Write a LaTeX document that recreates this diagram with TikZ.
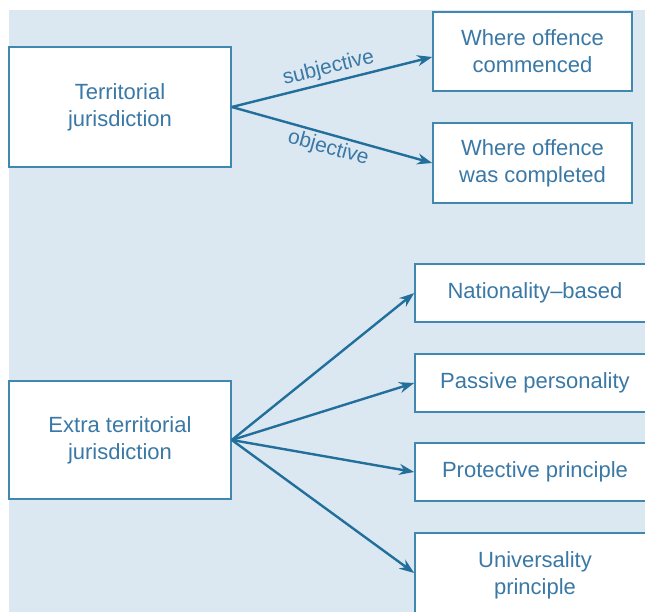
\documentclass[tikz,border=0pt]{standalone}
\usepackage{fontspec}
\setmainfont{Liberation Sans}
\usetikzlibrary{arrows.meta}
\definecolor{bgblue}{HTML}{DCE8F1}
\definecolor{boxline}{HTML}{4088B0}
\definecolor{arrowc}{HTML}{226F9C}
\definecolor{txt}{HTML}{3A78A6}
\begin{document}
\begin{tikzpicture}[x=1pt,y=-1pt,
  box/.style={draw=boxline, line width=1.6pt, fill=white, text=txt, align=center,
    font=\fontsize{22}{27}\selectfont, inner sep=0pt},
  conn/.style={draw=arrowc, line width=2.4pt, -{Stealth[length=15pt,width=11pt]}},
  lbl/.style={text=txt, font=\fontsize{21}{24}\selectfont, sloped, inner sep=3pt}]
\useasboundingbox (0,0) rectangle (645,612);
\fill[white] (0,0) rectangle (645,612);
\fill[bgblue] (9,10) rectangle (645,612);
% top group
\node[box, minimum width=222pt, minimum height=120pt] (terr) at (120,107) {Territorial\\jurisdiction};
\node[box, minimum width=199pt, minimum height=79pt] (comm) at (532.5,51.5) {Where offence\\commenced};
\node[box, minimum width=199pt, minimum height=80pt] (compl) at (532.5,163) {Where offence\\was completed};
\draw[conn] (terr.east) -- node[lbl, above] {subjective} (comm.west |- 0,57);
\draw[conn] (terr.east) -- node[lbl, below] {objective} (compl.west);
% bottom group
\node[box, minimum width=240pt, minimum height=58pt] (nat) at (535,293) {Nationality--based};
\node[box, minimum width=222pt, minimum height=118pt] (extra) at (120,440) {Extra territorial\\jurisdiction};
\node[box, minimum width=240pt, minimum height=58pt] (pass) at (535,383) {Passive personality};
\node[box, minimum width=240pt, minimum height=58pt] (prot) at (535,472) {Protective principle};
\node[box, minimum width=240pt, minimum height=84pt] (univ) at (535,575) {Universality\\principle};
\draw[conn] (extra.east) -- (nat.west);
\draw[conn] (extra.east) -- (pass.west);
\draw[conn] (extra.east) -- (prot.west);
\draw[conn] (extra.east) -- (univ.west |- 0,573);
\end{tikzpicture}
\end{document}
